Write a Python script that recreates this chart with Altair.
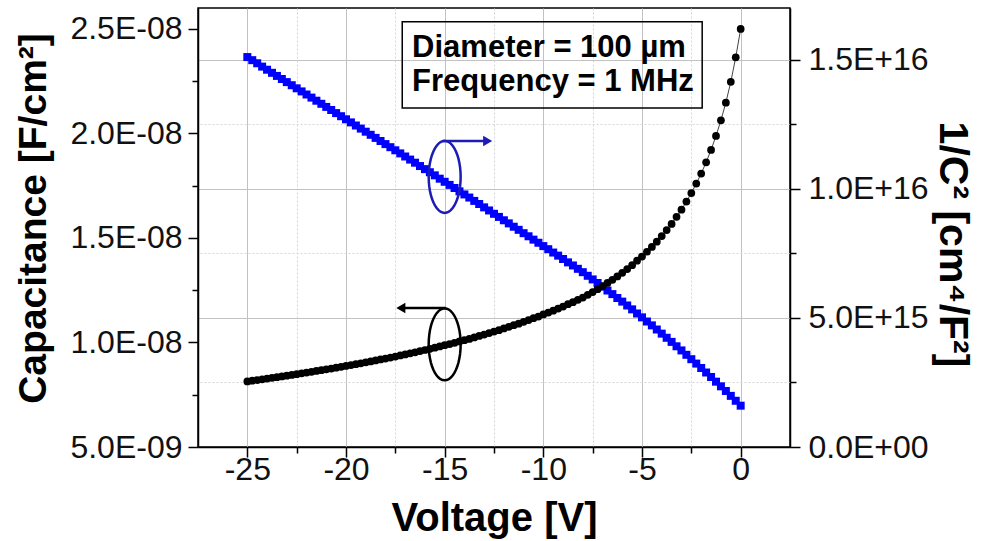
import math
import altair as alt
import pandas as pd

# ---------------- data ----------------
voltage = [
    -25, -24.75, -24.5, -24.25, -24, -23.75, -23.5, -23.25, -23, -22.75, -22.5, -22.25,
    -22, -21.75, -21.5, -21.25, -21, -20.75, -20.5, -20.25, -20, -19.75, -19.5, -19.25,
    -19, -18.75, -18.5, -18.25, -18, -17.75, -17.5, -17.25, -17, -16.75, -16.5, -16.25,
    -16, -15.75, -15.5, -15.25, -15, -14.75, -14.5, -14.25, -14, -13.75, -13.5, -13.25,
    -13, -12.75, -12.5, -12.25, -12, -11.75, -11.5, -11.25, -11, -10.75, -10.5, -10.25,
    -10, -9.75, -9.5, -9.25, -9, -8.75, -8.5, -8.25, -8, -7.75, -7.5, -7.25,
    -7, -6.75, -6.5, -6.25, -6, -5.75, -5.5, -5.25, -5, -4.75, -4.5, -4.25,
    -4, -3.75, -3.5, -3.25, -3, -2.75, -2.5, -2.25, -2, -1.75, -1.5, -1.25,
    -1, -0.75, -0.5, -0.25, 0,
]

# capacitance in units of 1E-09 F/cm^2
capacitance_e9 = [
    8.138, 8.171, 8.203, 8.239, 8.273, 8.307, 8.342, 8.377, 8.413, 8.449, 8.485, 8.522,
    8.559, 8.597, 8.636, 8.674, 8.714, 8.754, 8.794, 8.835, 8.877, 8.919, 8.962, 9.006,
    9.050, 9.095, 9.140, 9.186, 9.233, 9.281, 9.329, 9.378, 9.428, 9.479, 9.530, 9.587,
    9.640, 9.694, 9.750, 9.811, 9.868, 9.926, 9.985, 10.05, 10.11, 10.17, 10.24, 10.31,
    10.38, 10.45, 10.52, 10.59, 10.67, 10.75, 10.83, 10.90, 10.99, 11.07, 11.16, 11.24,
    11.34, 11.43, 11.52, 11.62, 11.72, 11.83, 11.93, 12.04, 12.15, 12.28, 12.41, 12.55,
    12.69, 12.85, 13.00, 13.16, 13.33, 13.51, 13.70, 13.91, 14.11, 14.34, 14.57, 14.82,
    15.09, 15.38, 15.67, 16.01, 16.35, 16.74, 17.15, 17.60, 18.08, 18.62, 19.21, 19.88,
    20.63, 21.47, 22.47, 23.64, 25.00,
]

# 1/C^2 in units of 1E+15 cm^4/F^2
inv_c2_e15 = [
    15.10, 14.98, 14.86, 14.73, 14.61, 14.49, 14.37, 14.25, 14.13, 14.01, 13.89, 13.77,
    13.65, 13.53, 13.41, 13.29, 13.17, 13.05, 12.93, 12.81, 12.69, 12.57, 12.45, 12.33,
    12.21, 12.09, 11.97, 11.85, 11.73, 11.61, 11.49, 11.37, 11.25, 11.13, 11.01, 10.88,
    10.76, 10.64, 10.52, 10.39, 10.27, 10.15, 10.03, 9.90, 9.78, 9.66, 9.53, 9.41,
    9.28, 9.16, 9.03, 8.91, 8.78, 8.66, 8.53, 8.41, 8.28, 8.16, 8.03, 7.91,
    7.78, 7.66, 7.53, 7.41, 7.28, 7.15, 7.03, 6.90, 6.77, 6.63, 6.49, 6.35,
    6.21, 6.06, 5.92, 5.77, 5.63, 5.48, 5.33, 5.17, 5.02, 4.86, 4.71, 4.55,
    4.39, 4.23, 4.07, 3.90, 3.74, 3.57, 3.40, 3.23, 3.06, 2.885, 2.71, 2.53,
    2.35, 2.17, 1.98, 1.79, 1.60,
]

x_ticks = [-25, -22.5, -20, -17.5, -15, -12.5, -10, -7.5, -5, -2.5, 0]
left_ticks = [5, 7.5, 10, 12.5, 15, 17.5, 20, 22.5, 25]
right_ticks = [0, 2.5, 5, 7.5, 10, 12.5, 15]
info_lines = ["Diameter = 100 µm", "Frequency = 1 MHz"]

n = min(len(voltage), len(capacitance_e9), len(inv_c2_e15))
df = pd.DataFrame({"V": voltage[:n], "C": capacitance_e9[:n], "B": inv_c2_e15[:n]})

# ---------------- styling helpers ----------------
FONT = "Liberation Sans"
MINOR = "datum.value % 5 != 0"
GRID_COLOR = {"condition": {"test": MINOR, "value": "#d6d6d6"}, "value": "#c2c2c2"}
GRID_DASH = {"condition": {"test": MINOR, "value": [2, 2]}, "value": []}
TICK_SIZE = {"condition": {"test": MINOR, "value": 6}, "value": 10}

xscale = alt.Scale(domain=[-27.5, 2.5], nice=False, zero=False)
cscale = alt.Scale(domain=[5, 26], nice=False, zero=False)
bscale = alt.Scale(domain=[0, 17], nice=False, zero=False)

common_axis = dict(
    labelFont=FONT, labelFontSize=32, labelColor="#111111",
    titleFont=FONT, titleFontWeight="bold", titleColor="black",
    tickColor="black", tickWidth=1.5, domainColor="black", domainWidth=1.5,
    labelFlush=False, labelOverlap=False, tickSize=TICK_SIZE,
)

x_axis = alt.Axis(
    orient="bottom", title="Voltage [V]", values=x_ticks,
    labelExpr="datum.value % 5 == 0 ? '' + datum.value : ''",
    grid=True, gridColor=GRID_COLOR, gridDash=GRID_DASH, gridWidth=1,
    labelPadding=-3, titleFontSize=40,
    titleX=296, titleY=71, titleAlign="center", titleBaseline="middle",
    **common_axis,
)

left_axis = alt.Axis(
    orient="left", title="Capacitance [F/cm²]", values=left_ticks,
    labelExpr="datum.value % 5 != 0 ? '' : (datum.value < 10 ? format(datum.value, '.1f') + 'E-09' : format(datum.value / 10, '.1f') + 'E-08')",
    grid=False, labelPadding=6, titleFontSize=39,
    titleAngle=270, titleX=-165, titleY=210, titleAlign="center", titleBaseline="middle",
    **common_axis,
)

right_axis = alt.Axis(
    orient="right", title="1/C² [cm⁴/F²]", values=right_ticks,
    labelExpr="datum.value % 5 != 0 ? '' : (datum.value == 0 ? '0.0E+00' : (datum.value < 10 ? format(datum.value, '.1f') + 'E+15' : format(datum.value / 10, '.1f') + 'E+16'))",
    grid=True, gridColor=GRID_COLOR, gridDash=GRID_DASH, gridWidth=1, labelPadding=8,
    titleFontSize=41,
    titleAngle=90, titleX=161, titleY=236, titleAlign="center", titleBaseline="middle",
    **common_axis,
)


def X(field):
    return alt.X(field, scale=xscale, axis=x_axis)


def YB(field):
    return alt.Y(field, scale=bscale, axis=right_axis)


def YC(field):
    return alt.Y(field, scale=cscale, axis=left_axis)


# ellipse glyph (32 x 72 px) as a custom symbol path
pts = []
for k in range(48):
    t = 2 * math.pi * k / 48
    pts.append(f"{0.444 * math.sin(t):.4f},{-math.cos(t):.4f}")
ELLIPSE = "M" + "L".join(pts) + "Z"
ELLIPSE_SIZE = 72 * 72

# ---------------- blue group: 1/C^2 (right axis) ----------------
BLUE = "#0000ff"
ANNO_BLUE = "#1c1cb4"

blue_sq = alt.Chart(df).mark_square(color=BLUE, size=64, opacity=1).encode(
    x=X("V:Q"), y=YB("B:Q"),
)

blue_ell = alt.Chart(pd.DataFrame({"V": [-15.0], "B": [10.46]})).mark_point(
    shape=ELLIPSE, size=ELLIPSE_SIZE, filled=False, color=ANNO_BLUE, strokeWidth=2.5, opacity=1
).encode(x=X("V:Q"), y=YB("B:Q"))

blue_arrow_line = alt.Chart(pd.DataFrame({"V": [-15.1], "V2": [-12.85], "B": [11.85]})).mark_rule(
    color=ANNO_BLUE, strokeWidth=2.5
).encode(x=X("V:Q"), x2="V2:Q", y=YB("B:Q"))

blue_arrow_head = alt.Chart(pd.DataFrame({"V": [-12.82], "B": [11.85]})).mark_point(
    shape="triangle-right", size=110, filled=True, color=ANNO_BLUE, opacity=1
).encode(x=X("V:Q"), y=YB("B:Q"))

box = alt.Chart(pd.DataFrame({"V": [-17.15], "V2": [-1.95], "B": [16.47], "B2": [13.13]})).mark_rect(
    fillOpacity=0, stroke="black", strokeWidth=1.5
).encode(x=X("V:Q"), x2="V2:Q", y=YB("B:Q"), y2="B2:Q")

box_text = alt.Chart(pd.DataFrame({"V": [-16.65, -16.65], "B": [15.46, 14.14], "t": info_lines})).mark_text(
    align="left", baseline="middle", font=FONT, fontSize=31, fontWeight="bold", color="black"
).encode(x=X("V:Q"), y=YB("B:Q"), text="t:N")

blue_group = alt.layer(blue_sq, blue_ell, blue_arrow_line, blue_arrow_head, box, box_text)

# ---------------- black group: capacitance (left axis) ----------------
black_line = alt.Chart(df).mark_line(color="#444444", strokeWidth=1).encode(
    x=X("V:Q"), y=YC("C:Q"),
)
black_dots = alt.Chart(df).mark_circle(color="black", size=60, opacity=1).encode(
    x=X("V:Q"), y=YC("C:Q"),
)
black_ell = alt.Chart(pd.DataFrame({"V": [-15.0], "C": [9.91]})).mark_point(
    shape=ELLIPSE, size=ELLIPSE_SIZE, filled=False, color="black", strokeWidth=2.5, opacity=1
).encode(x=X("V:Q"), y=YC("C:Q"))

black_arrow_line = alt.Chart(pd.DataFrame({"V": [-14.95], "V2": [-17.2], "C": [11.65]})).mark_rule(
    color="black", strokeWidth=2.5
).encode(x=X("V:Q"), x2="V2:Q", y=YC("C:Q"))

black_arrow_head = alt.Chart(pd.DataFrame({"V": [-17.22], "C": [11.65]})).mark_point(
    shape="triangle-left", size=110, filled=True, color="black", opacity=1
).encode(x=X("V:Q"), y=YC("C:Q"))

black_group = alt.layer(black_line, black_dots, black_ell, black_arrow_line, black_arrow_head)

chart = (
    alt.layer(blue_group, black_group)
    .resolve_scale(y="independent")
    .properties(
        width=592, height=439,
        padding={"left": 198, "top": 8, "right": 195, "bottom": 94},
        autosize=alt.AutoSizeParams(type="none"),
        background="white",
    )
    .configure_view(stroke="black", strokeWidth=1.5)
)

chart.save("out.html", embed_options={"renderer": "svg", "actions": False})
